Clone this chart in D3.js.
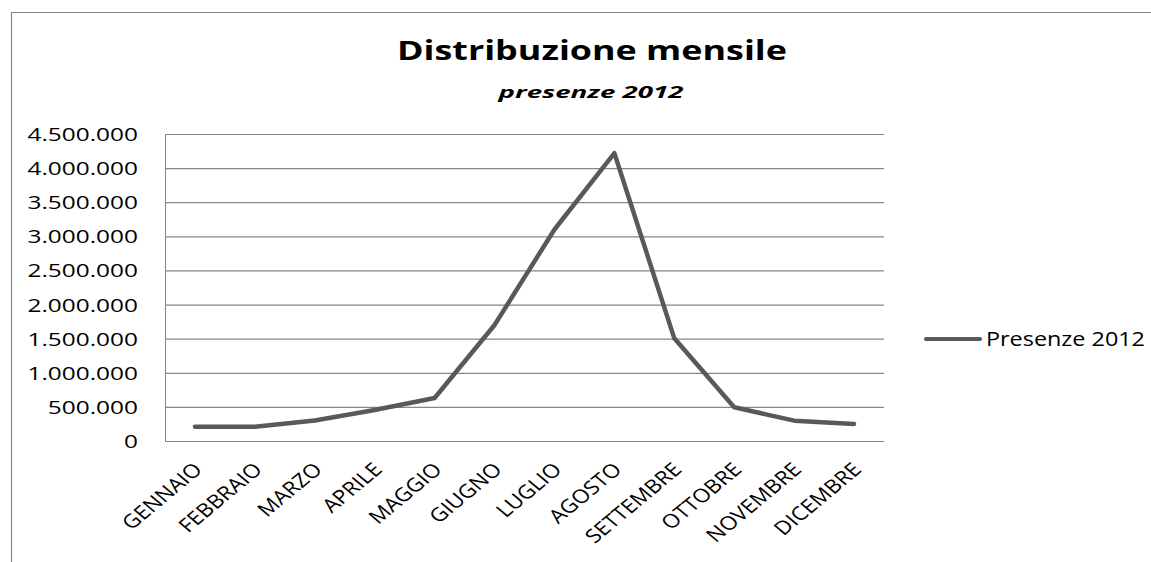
<!DOCTYPE html>
<html>
<head>
<meta charset="utf-8">
<script src="https://cdn.jsdelivr.net/npm/d3@7"></script>
<style>
  html, body { margin: 0; padding: 0; background: #fff; }
  svg { display: block; }
  text { font-family: "Open Sans", "DejaVu Sans", sans-serif; fill: #000; }
</style>
</head>
<body>
<svg id="chart" width="1151" height="562"></svg>
<script>
// ---- Data ----
const months = ["GENNAIO","FEBBRAIO","MARZO","APRILE","MAGGIO","GIUGNO","LUGLIO","AGOSTO","SETTEMBRE","OTTOBRE","NOVEMBRE","DICEMBRE"];
const presenze2012 = [210000, 210000, 300000, 455000, 630000, 1700000, 3100000, 4220000, 1505000, 495000, 298000, 250000];
const yTicks = [0, 500000, 1000000, 1500000, 2000000, 2500000, 3000000, 3500000, 4000000, 4500000];
const seriesName = "Presenze 2012";
const titleText = "Distribuzione mensile";
const subtitleText = "presenze 2012";

// ---- Layout ----
const W = 1151, H = 562;
const plot = { left: 165, right: 884, top: 134, bottom: 441 };
const lineColor = "#595959";
const gridColor = "#868686";

const svg = d3.select("#chart");
const itFmt = d3.formatLocale({ decimal: ",", thousands: ".", grouping: [3], currency: ["€", ""] }).format(",d");

// Outer chart border (top & left visible)
svg.append("path")
  .attr("d", `M11.5,${H + 5} L11.5,12.5 L${W + 5},12.5`)
  .attr("fill", "none").attr("stroke", gridColor).attr("stroke-width", 1.2);

const x = d3.scaleBand().domain(months).range([plot.left, plot.right]);
const y = d3.scaleLinear().domain([0, 4500000]).range([plot.bottom, plot.top]);

// Y axis with gridlines
const yAxis = svg.append("g")
  .attr("transform", `translate(${plot.left},0)`)
  .call(d3.axisLeft(y).tickValues(yTicks).tickFormat(itFmt).tickSize(-(plot.right - plot.left)).tickPadding(0));
yAxis.select(".domain").attr("stroke", gridColor).attr("d", `M0.5,${plot.top}V${plot.bottom}`);
yAxis.selectAll(".tick line").attr("stroke", gridColor).attr("stroke-width", 1.2);
yAxis.selectAll(".tick text")
  .attr("x", 0).attr("dy", "0.35em")
  .attr("transform", `translate(-27,0) scale(1.32,1)`)
  .style("font-size", "18.5px").attr("fill", "#000")
  .attr("text-anchor", "end");

// X axis (baseline only + labels)
const xAxis = svg.append("g")
  .attr("transform", `translate(0,${plot.bottom})`)
  .call(d3.axisBottom(x).tickSize(0).tickPadding(0));
xAxis.select(".domain").attr("stroke", gridColor).attr("stroke-width", 1.2)
  .attr("d", `M${plot.left},0.5H${plot.right}`);
xAxis.selectAll(".tick text")
  .attr("x", 0).attr("y", 0).attr("dy", "0.35em")
  .attr("text-anchor", "end")
  .attr("transform", `translate(3,25) scale(1.2,1) rotate(-45)`)
  .style("font-size", "19px").attr("fill", "#000");

// Line
const line = d3.line()
  .x((d, i) => x(months[i]) + x.bandwidth() / 2)
  .y(d => y(d));
svg.append("path")
  .datum(presenze2012)
  .attr("d", line)
  .attr("fill", "none")
  .attr("stroke", lineColor)
  .attr("stroke-width", 4.5)
  .attr("stroke-linejoin", "round")
  .attr("stroke-linecap", "round");

// Title & subtitle
svg.append("text")
  .attr("x", 592).attr("y", 60)
  .attr("text-anchor", "middle")
  .attr("textLength", 390).attr("lengthAdjust", "spacingAndGlyphs")
  .style("font-size", "26px").style("font-weight", "bold")
  .text(titleText);
svg.append("text")
  .attr("x", 591).attr("y", 98)
  .attr("text-anchor", "middle")
  .attr("textLength", 185).attr("lengthAdjust", "spacingAndGlyphs")
  .style("font-size", "16px").style("font-weight", "bold").style("font-style", "italic")
  .text(subtitleText);

// Legend
const lg = svg.append("g");
lg.append("line")
  .attr("x1", 926).attr("x2", 980).attr("y1", 339).attr("y2", 339)
  .attr("stroke", lineColor).attr("stroke-width", 4).attr("stroke-linecap", "round");
lg.append("text")
  .attr("x", 986).attr("y", 346)
  .attr("textLength", 159).attr("lengthAdjust", "spacingAndGlyphs")
  .style("font-size", "20px")
  .text(seriesName);
</script>
</body>
</html>
